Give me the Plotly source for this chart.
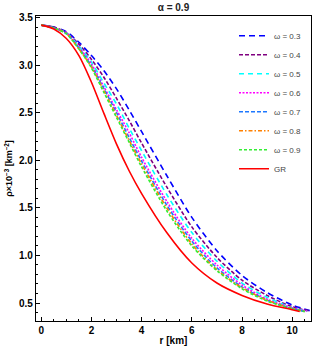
import plotly.graph_objects as go

r_common = [0, 0.5, 1, 1.5, 2, 2.5, 3, 3.5, 4, 5, 6, 7, 8, 9, 10]

rho_w03 = [3.42, 3.40, 3.35, 3.24, 3.10, 2.94, 2.75, 2.53, 2.30, 1.84, 1.40, 1.05, 0.79, 0.61, 0.48, 0.42]
rho_w04 = [3.42, 3.40, 3.34, 3.22, 3.06, 2.87, 2.65, 2.42, 2.18, 1.72, 1.30, 0.98, 0.74, 0.58, 0.46, 0.42]
rho_w05 = [3.42, 3.39, 3.34, 3.20, 3.03, 2.81, 2.59, 2.34, 2.10, 1.64, 1.24, 0.94, 0.71, 0.56, 0.45, 0.415]
rho_w06 = [3.42, 3.39, 3.34, 3.19, 3.01, 2.77, 2.53, 2.29, 2.03, 1.57, 1.18, 0.90, 0.69, 0.54, 0.45, 0.415]
rho_w07 = [3.42, 3.39, 3.33, 3.18, 2.99, 2.75, 2.50, 2.24, 1.99, 1.53, 1.15, 0.87, 0.67, 0.53, 0.44, 0.41]
rho_w08 = [3.42, 3.39, 3.33, 3.17, 2.98, 2.73, 2.47, 2.21, 1.96, 1.50, 1.12, 0.85, 0.66, 0.53, 0.44, 0.41]
rho_w09 = [3.42, 3.39, 3.33, 3.17, 2.97, 2.71, 2.45, 2.19, 1.93, 1.47, 1.10, 0.84, 0.65, 0.52, 0.44, 0.41]
rho_gr = [3.42, 3.38, 3.28, 3.10, 2.82, 2.49, 2.17, 1.89, 1.65, 1.24, 0.92, 0.71, 0.58, 0.49, 0.43, 0.41]

r_end = {"0.3": 10.7, "0.4": 10.65, "0.5": 10.6, "0.6": 10.58, "0.7": 10.55,
         "0.8": 10.53, "0.9": 10.5, "GR": 10.3}

labels = ["ω = 0.3", "ω = 0.4", "ω = 0.5", "ω = 0.6", "ω = 0.7", "ω = 0.8", "ω = 0.9", "GR"]
keys = ["0.3", "0.4", "0.5", "0.6", "0.7", "0.8", "0.9", "GR"]
series = [rho_w03, rho_w04, rho_w05, rho_w06, rho_w07, rho_w08, rho_w09, rho_gr]
colors = ["#0000FF", "#800080", "#00FFFF", "#FF00FF", "#1E78FF", "#FF8000", "#33EE33", "#FF0000"]
dashes = ["6px,4px", "4px,2px", "5px,4px", "2px,1.5px", "4px,2px", "4px,2px,1.5px,2px", "3px,2px", "solid"]

fig = go.Figure()
for lab, k, ys, c, d in zip(labels, keys, series, colors, dashes):
    xs = r_common + [r_end[k]]
    fig.add_trace(go.Scatter(
        x=xs, y=ys, mode="lines", name=lab, legendgroup=lab,
        line=dict(color=c, width=1.6, dash=d, shape="spline", smoothing=0.8),
    ))

font_fam = "Liberation Sans, Arial, sans-serif"
fig.update_layout(
    width=313, height=357,
    margin=dict(l=36, r=2, t=16, b=36),
    paper_bgcolor="white", plot_bgcolor="white",
    title=dict(text="<b>α = 0.9</b>", x=(36 + 137.5) / 313, xanchor="center",
               y=1 - 7 / 357, yanchor="middle", font=dict(size=10, family=font_fam, color="#222")),
    font=dict(family=font_fam, color="black"),
    showlegend=True,
    legend=dict(x=0.72, y=0.983, xanchor="left", yanchor="top",
                bgcolor="rgba(0,0,0,0)", font=dict(size=8, color="#444"),
                tracegroupgap=0, itemwidth=30),
)
fig.update_xaxes(
    range=[-0.21, 10.75], showgrid=False, zeroline=False, automargin=False,
    showline=True, linecolor="black", linewidth=1.2, mirror=True,
    ticks="inside", ticklen=4, tickcolor="black", tickwidth=1,
    tickvals=[0, 2, 4, 6, 8, 10], ticktext=["<b>0</b>", "<b>2</b>", "<b>4</b>", "<b>6</b>", "<b>8</b>", "<b>10</b>"],
    tickfont=dict(size=10, family=font_fam),
    minor=dict(ticks="inside", ticklen=2, dtick=0.5, tick0=0, tickcolor="black"),
    title=dict(text="<b>r [km]</b>", font=dict(size=10, family=font_fam), standoff=1),
)
fig.update_yaxes(
    range=[0.311, 3.516], showgrid=False, zeroline=False, automargin=False,
    showline=True, linecolor="black", linewidth=1.2, mirror=True,
    ticks="inside", ticklen=4, tickcolor="black", tickwidth=1,
    tickvals=[0.5, 1.0, 1.5, 2.0, 2.5, 3.0, 3.5],
    ticktext=["<b>0.5</b>", "<b>1.0</b>", "<b>1.5</b>", "<b>2.0</b>", "<b>2.5</b>", "<b>3.0</b>", "<b>3.5</b>"],
    tickfont=dict(size=10, family=font_fam),
    minor=dict(ticks="inside", ticklen=2, dtick=0.1, tick0=0, tickcolor="black"),
    title=dict(text="<b>ρ×10<sup>−3</sup> [km<sup>−2</sup>]</b>", font=dict(size=9, family=font_fam), standoff=4),
)

fig.write_html("out.html", config={"displayModeBar": False},
               post_script="document.body.style.margin='0';")
